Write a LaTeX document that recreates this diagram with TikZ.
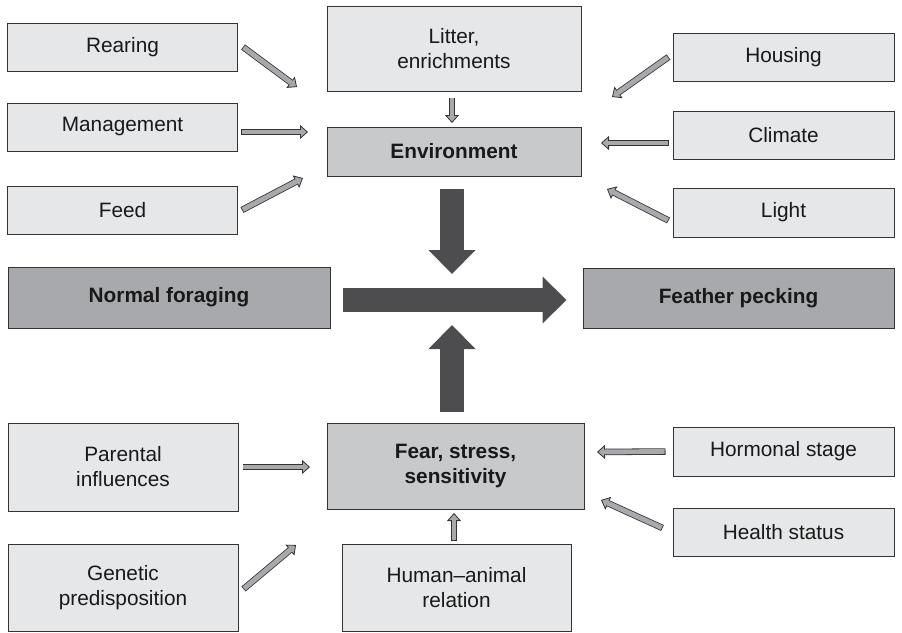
\documentclass[tikz,border=0pt]{standalone}
\usepackage{fontspec}
\setmainfont{Liberation Sans}
\usetikzlibrary{arrows.meta,calc}
\definecolor{boxlight}{HTML}{E6E7E8}
\definecolor{boxmid}{HTML}{C8C9CB}
\definecolor{boxdark}{HTML}{A7A9AC}
\definecolor{bigarr}{HTML}{4D4D4F}
\definecolor{linec}{HTML}{333333}

\begin{document}
\begin{tikzpicture}[x=1pt,y=-1pt,
  bx/.style={draw=linec,line width=1pt,fill=boxlight,inner sep=0pt,align=center,
    text=black!90,font=\fontsize{20.8}{25}\selectfont},
  lbx/.style={bx,minimum width=230pt,minimum height=48pt},
  rbx/.style={bx,minimum width=221pt,minimum height=48pt},
  key/.style={bx,fill=boxmid,font=\fontsize{20.8}{25}\selectfont\bfseries},
  endbx/.style={key,fill=boxdark,minimum height=61pt},
  sar/.style={line width=6.5pt,draw=linec,
    -{Triangle[length=8pt,width=14pt,line width=0.8pt,fill=boxdark]},
    postaction={draw=boxdark,line width=4.9pt,arrows=-,shorten >=7pt,shorten <=0.8pt}},
  big/.style={line width=24pt,draw=bigarr,
    -{Triangle[length=24pt,width=47pt,line width=0pt]}}]
  \useasboundingbox (0,0) rectangle (902,632);

  % influences on the environment
  \node[lbx] (rear) at (122.5,47) {Rearing};
  \node[lbx] (mgmt) at (122.5,127) {Management};
  \node[lbx] (feed) at (122.5,210) {Feed};
  \node[bx,minimum width=254pt,minimum height=85pt] (litter) at (454,48.5) {Litter,\\enrichments};
  \node[key,minimum width=254pt,minimum height=49pt] (env) at (454,151.5) {Environment};
  \node[rbx] (hous) at (783.5,57) {Housing};
  \node[rbx] (clim) at (783.5,135) {Climate};
  \node[rbx,minimum height=49pt] (light) at (783.5,212.5) {Light};

  % main line
  \node[endbx,minimum width=322pt] (forage) at (169,297.5) {Normal foraging};
  \node[endbx,minimum width=311pt,minimum height=60pt] (peck) at (738.5,298) {Feather pecking};

  % influences on fear
  \node[key,minimum width=257pt,minimum height=86pt] (fear) at (455.5,466) {Fear, stress,\\sensitivity};
  \node[lbx,minimum height=88pt] (parent) at (123,467) {Parental\\influences};
  \node[lbx,minimum height=87pt] (genet) at (123,587.5) {Genetic\\predisposition};
  \node[bx,minimum width=229pt,minimum height=87pt] (human) at (456.5,587.5) {Human--animal\\relation};
  \node[rbx,minimum height=49pt] (hormon) at (783.5,451.5) {Hormonal stage};
  \node[rbx] (health) at (783.5,532) {Health status};

  % free arrow ends
  \coordinate (hub) at (452,300);
  \coordinate (tRear) at (297,87);
  \coordinate (tMgmt) at (308,132);
  \coordinate (tFeed) at (303,178);
  \coordinate (tLit) at (452,123);
  \coordinate (tHous) at (612,97);
  \coordinate (tClim) at (601,143);
  \coordinate (tLight) at (607,189);
  \coordinate (tPar) at (310,467);
  \coordinate (tGen) at (296,545);
  \coordinate (tHum) at (454,513);
  \coordinate (tHor) at (597,452);
  \coordinate (tHea) at (601,500);

  \draw[sar] ([xshift=5pt]rear.east) -- (tRear);
  \draw[sar] ([xshift=3pt,yshift=-5pt]mgmt.east) -- (tMgmt);
  \draw[sar] ([xshift=4pt]feed.east) -- (tFeed);
  \draw[sar] ([xshift=-2pt,yshift=-6pt]litter.south) -- (tLit);
  \draw[sar] ([xshift=-4pt]hous.west) -- (tHous);
  \draw[sar] ([xshift=-4pt,yshift=-8pt]clim.west) -- (tClim);
  \draw[sar] ([xshift=-4pt,yshift=-8pt]light.west) -- (tLight);
  \draw[sar] ([xshift=4pt]parent.east) -- (tPar);
  \draw[sar] ([xshift=5pt,yshift=-1.5pt]genet.east) -- (tGen);
  \draw[sar] ([xshift=-2.5pt,yshift=3pt]human.north) -- (tHum);
  \draw[sar] ([xshift=-7pt]hormon.west) -- (tHor);
  \draw[sar] ([xshift=-10pt,yshift=4pt]health.west) -- (tHea);

  \draw[big,shorten <=12pt,shorten >=16pt] (forage.east |- hub) -- (peck.west |- hub);
  \draw[big,shorten <=12pt,shorten >=26pt] (env.south -| hub) -- (hub);
  \draw[big,shorten <=11pt,shorten >=25pt] (fear.north -| hub) -- (hub);
\end{tikzpicture}
\end{document}
